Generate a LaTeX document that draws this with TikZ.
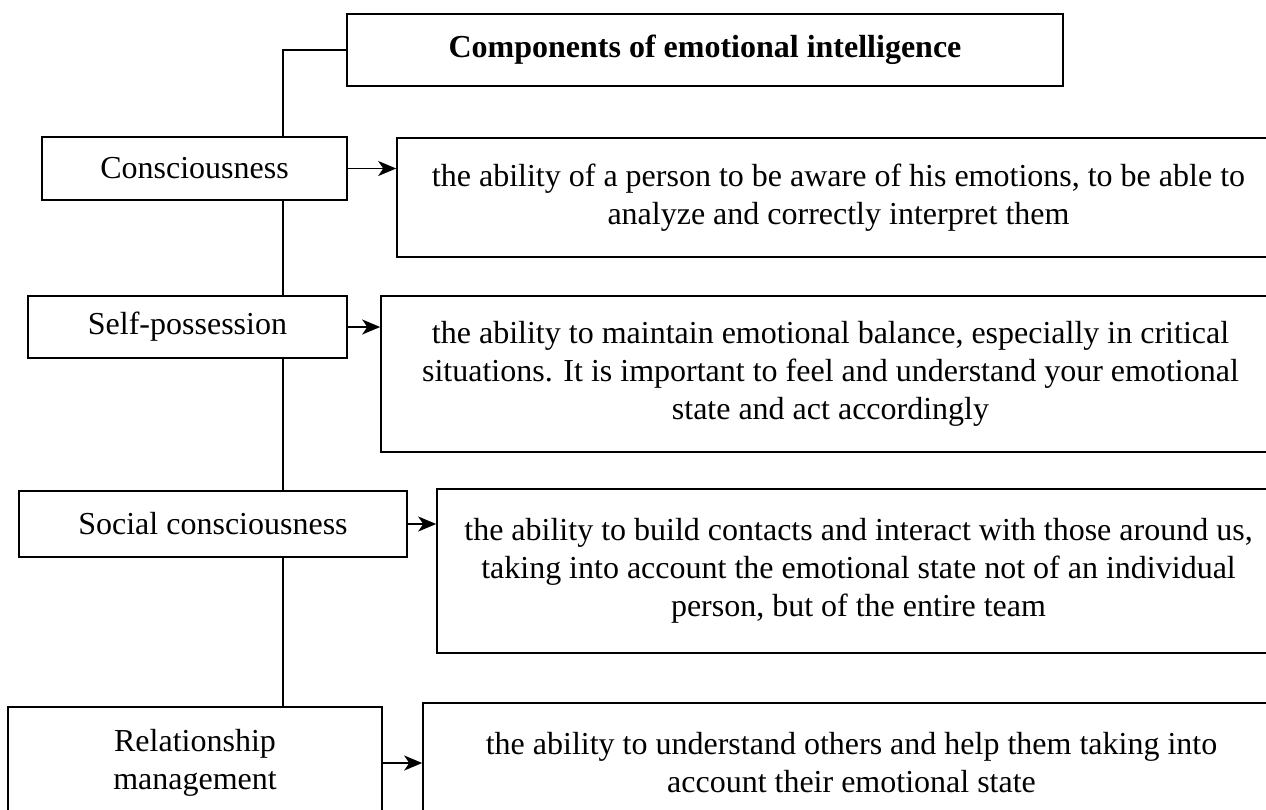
\documentclass[tikz,border=0pt]{standalone}
\usepackage{fontspec}
\setmainfont{Liberation Serif}
\usetikzlibrary{arrows.meta}
\begin{document}
\begin{tikzpicture}[x=1pt,y=-1pt,
  box/.style={draw, line width=1.6pt, rectangle, inner sep=0pt, align=center,
    font=\fontsize{32}{38}\selectfont},
  link/.style={line width=1.6pt},
  arr/.style={line width=1.6pt, -{Stealth[length=18pt,width=15pt,inset=5pt]}}]
\useasboundingbox (0,0) rectangle (1266,809);
\coordinate (sp) at (283,0);
\node[box, minimum width=716pt, minimum height=72pt, font=\fontsize{32}{38}\selectfont\bfseries] (title) at (705,50) {Components of emotional intelligence};
\node[box, minimum width=305pt, minimum height=63pt] (c1) at (194.5,168.5) {Consciousness};
\node[box, minimum width=883pt, minimum height=119pt] (d1) at (838.5,197.5) {the ability of a person to be aware of his emotions, to be able to\\analyze and correctly interpret them};
\node[box, minimum width=319pt, minimum height=62pt] (c2) at (187.5,327) {Self-possession};
\node[box, minimum width=899pt, minimum height=156pt] (d2) at (830.5,374) {the ability to maintain emotional balance, especially in critical\\situations. It is important to feel and understand your emotional\\state and act accordingly};
\node[box, minimum width=388pt, minimum height=66pt] (c3) at (213,524) {Social consciousness};
\node[box, minimum width=843pt, minimum height=164pt] (d3) at (858.5,571) {the ability to build contacts and interact with those around us,\\taking into account the emotional state not of an individual\\person, but of the entire team};
\node[box, minimum width=374pt, minimum height=112pt] (c4) at (195,763) {Relationship\\management};
\node[box, minimum width=857pt, minimum height=120pt] (d4) at (851.5,763) {the ability to understand others and help them taking into\\account their emotional state};
\draw[link] (title.west) -| (c1.north -| sp);
\draw[link] (c1.south -| sp) -- (c2.north -| sp);
\draw[link] (c2.south -| sp) -- (c3.north -| sp);
\draw[link] (c3.south -| sp) -- (c4.north -| sp);
\draw[arr] (c1.east) -- (c1.east -| d1.west);
\draw[arr] (c2.east) -- (c2.east -| d2.west);
\draw[arr] (c3.east) -- (c3.east -| d3.west);
\draw[arr] (c4.east) -- (c4.east -| d4.west);
\end{tikzpicture}
\end{document}
